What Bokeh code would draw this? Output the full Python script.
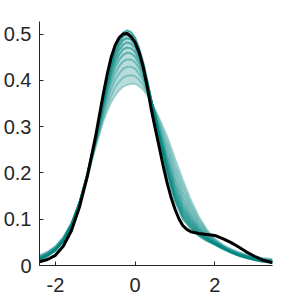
from bokeh.plotting import figure
from bokeh.models import Range1d, FixedTicker
from bokeh.embed import file_html
from bokeh.resources import INLINE

# ---- data ----
# bootstrap density curves, sampled on X
X = [-2.4, -2.2, -2.0, -1.8, -1.6, -1.4, -1.2, -1.0, -0.8, -0.7, -0.6, -0.5, -0.4, -0.3, -0.2, -0.1,
     0.0, 0.1, 0.2, 0.3, 0.4, 0.6, 0.8, 1.0, 1.2, 1.4, 1.6, 1.8, 2.0, 2.2, 2.4, 2.6, 2.8, 3.0, 3.2, 3.45]

BOOT_1 = [.012, .020, .032, .052, .085, .134, .198, .275, .362, .404, .440, .470, .490, .503, .508, .504,
          .492, .470, .440, .402, .360, .275, .200, .140, .100, .080, .064, .053, .045, .036, .028, .021, .016, .012, .008, .006]
BOOT_2 = [.013, .021, .033, .053, .085, .134, .197, .273, .358, .399, .434, .463, .482, .495, .500, .496,
          .485, .464, .436, .400, .360, .278, .206, .146, .106, .084, .067, .055, .046, .037, .029, .022, .016, .012, .009, .007]
BOOT_3 = [.013, .021, .033, .053, .086, .134, .197, .272, .355, .394, .428, .456, .474, .487, .491, .488,
          .478, .458, .432, .397, .359, .281, .211, .153, .112, .089, .070, .057, .047, .037, .029, .022, .017, .013, .009, .007]
BOOT_4 = [.014, .022, .034, .054, .087, .134, .196, .270, .351, .388, .421, .447, .465, .477, .482, .479,
          .470, .452, .427, .395, .359, .285, .218, .160, .119, .094, .073, .059, .048, .038, .030, .023, .018, .014, .010, .008]
BOOT_5 = [.015, .023, .035, .055, .087, .134, .196, .268, .346, .382, .413, .438, .455, .467, .471, .469,
          .461, .444, .421, .391, .358, .289, .225, .169, .126, .099, .077, .061, .049, .039, .030, .023, .018, .014, .010, .008]
BOOT_6 = [.016, .024, .036, .056, .088, .134, .195, .266, .341, .375, .404, .428, .444, .455, .460, .458,
          .451, .436, .415, .388, .358, .293, .233, .178, .135, .105, .081, .063, .050, .040, .031, .024, .019, .015, .011, .009]
BOOT_7 = [.017, .025, .037, .057, .089, .135, .194, .263, .334, .366, .393, .415, .431, .441, .445, .445,
          .439, .426, .408, .384, .357, .299, .242, .189, .145, .113, .086, .066, .052, .041, .032, .025, .020, .016, .012, .010]
BOOT_8 = [.019, .027, .039, .059, .090, .135, .193, .260, .327, .356, .381, .401, .415, .425, .429, .429,
          .425, .414, .400, .379, .356, .305, .254, .202, .157, .122, .092, .070, .054, .042, .033, .026, .021, .017, .013, .011]
BOOT_9 = [.020, .028, .040, .060, .091, .135, .191, .256, .319, .345, .367, .385, .397, .406, .410, .411,
          .409, .401, .390, .374, .355, .312, .266, .216, .171, .131, .099, .074, .056, .043, .035, .028, .022, .018, .015, .013]
BOOT_10 = [.022, .030, .042, .062, .092, .135, .190, .252, .310, .333, .352, .367, .378, .386, .390, .392,
           .392, .387, .380, .368, .354, .320, .280, .232, .185, .142, .106, .078, .058, .045, .036, .029, .023, .019, .016, .014]

# the sample's own density estimate (black curve)
DENSITY_X = [-2.4, -2.2, -2.0, -1.8, -1.6, -1.4, -1.2, -1.0, -0.8, -0.7, -0.6, -0.5, -0.4, -0.3, -0.2, -0.1,
             0.0, 0.1, 0.2, 0.3, 0.4, 0.5, 0.6, 0.7, 0.8, 0.9, 1.0, 1.1, 1.2, 1.3, 1.4, 1.6, 1.8, 2.0, 2.2,
             2.4, 2.6, 2.8, 3.0, 3.2, 3.45]
DENSITY = [.008, .013, .022, .042, .075, .125, .192, .275, .370, .413, .450, .476, .492, .500, .501, .494,
           .482, .461, .430, .388, .340, .298, .258, .217, .180, .148, .122, .101, .086, .078, .073, .069, .067, .065, .058,
           .050, .040, .029, .020, .012, .006]

X_TICKS = [-2, 0, 2]
X_TICK_LABELS = ["-2", "0", "2"]
Y_TICKS = [0, 0.1, 0.2, 0.3, 0.4, 0.5]
Y_TICK_LABELS = ["0", "0.1", "0.2", "0.3", "0.4", "0.5"]

BOOTS = [BOOT_10, BOOT_9, BOOT_8, BOOT_7, BOOT_6, BOOT_5, BOOT_4, BOOT_3, BOOT_2, BOOT_1]
BOOT_ALPHAS = [0.28, 0.32, 0.36, 0.42, 0.48, 0.55, 0.6, 0.65, 0.65, 0.65]

# ---- figure ----
p = figure(width=300, height=300, output_backend="svg", toolbar_location=None,
           x_range=Range1d(-2.4, 3.45), y_range=Range1d(0, 0.527),
           min_border_left=38, min_border_right=28, min_border_top=21, min_border_bottom=35)
p.outline_line_color = None
p.xgrid.visible = False
p.ygrid.visible = False
p.background_fill_color = "white"
p.border_fill_color = "white"

teal = "#008580"
lower = [min(v) for v in zip(*BOOTS)]
upper = [max(v) for v in zip(*BOOTS)]
p.varea(x=X, y1=lower, y2=upper, fill_color=teal, fill_alpha=0.28)

for b, a in zip(BOOTS, BOOT_ALPHAS):
    p.line(X, b, line_color=teal, line_alpha=a, line_width=2)

p.line(DENSITY_X, DENSITY, line_color="black", line_width=3)

ink = "#262626"
for ax, ticks, labels in ((p.xaxis[0], X_TICKS, X_TICK_LABELS), (p.yaxis[0], Y_TICKS, Y_TICK_LABELS)):
    ax.ticker = FixedTicker(ticks=ticks)
    ax.major_label_overrides = dict(zip(ticks, labels))
    ax.major_tick_in = 4
    ax.major_tick_out = 0
    ax.minor_tick_line_color = None
    ax.axis_line_color = ink
    ax.major_tick_line_color = ink
    ax.major_label_text_color = ink
    ax.major_label_text_font = "Liberation Sans"
    ax.major_label_text_font_size = "20px"
p.yaxis.major_label_standoff = 8
p.xaxis.major_label_standoff = 12

open("out.html", "w").write(file_html(p, INLINE))
